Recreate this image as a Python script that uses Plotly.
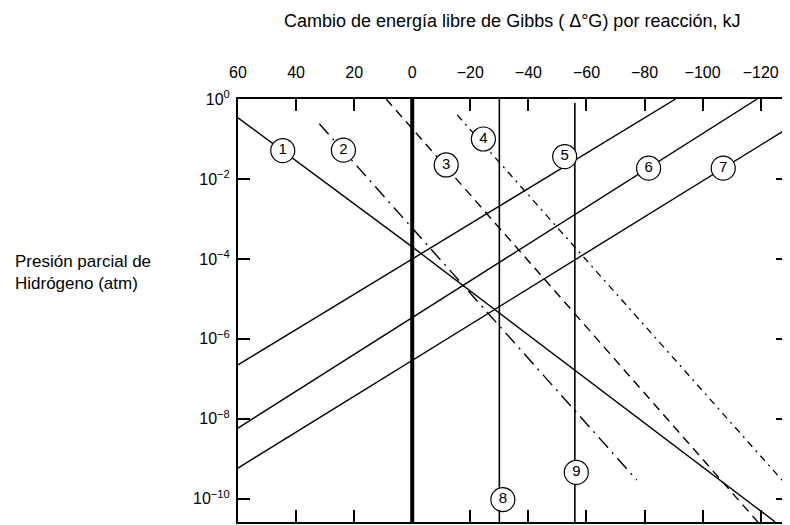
import plotly.graph_objects as go

# ---- axis ticks ----
dg_ticks = [60, 40, 20, 0, -20, -40, -60, -80, -100, -120]
dg_tick_text = ["60", "40", "20", "0", "\u221220", "\u221240", "\u221260", "\u221280", "\u2212100", "\u2212120"]
p_exp_ticks = [0, -2, -4, -6, -8, -10]
p_tick_text = ["10<sup>0</sup>", "10<sup>\u22122</sup>", "10<sup>\u22124</sup>",
               "10<sup>\u22126</sup>", "10<sup>\u22128</sup>", "10<sup>\u221210</sup>"]

# ---- reaction lines: ΔG (kJ) vs log10 of H2 partial pressure (atm) ----
line1_dg = [60, 0, -125]
line1_logp = [-0.47, -3.7, -10.58]
line2_dg = [32, -77.3]
line2_logp = [-0.62, -9.53]
line3_dg = [9, -119]
line3_logp = [0, -10.58]
line4_dg = [-15.5, -129.4]
line4_logp = [-0.4, -9.7]
line5_dg = [60, -90.7]
line5_logp = [-6.65, 0]
line6_dg = [60, -118.8]
line6_logp = [-8.23, 0]
line7_dg = [60, -129.4]
line7_logp = [-9.23, -0.73]
line8_dg = [-30, -30]
line8_logp = [0, -10.58]
line9_dg = [-56, -56]
line9_logp = [-0.1, -10.58]
zero_dg = [0, 0]
zero_logp = [0, -10.58]

# ---- circled labels ----
label_text = ["1", "2", "3", "4", "5", "6", "7", "8", "9"]
label_dg = [44.6, 23.7, -11.7, -24.5, -52.5, -81.4, -107.1, -31.2, -56.5]
label_logp = [-1.29, -1.28, -1.65, -1.0, -1.44, -1.73, -1.73, -10.02, -9.34]

x_range = [60, -129.4]
y_range = [-10.58, 0]

FONT = "Liberation Sans, Arial, sans-serif"


def pw(vals):
    return [10 ** v for v in vals]


fig = go.Figure()

styles = [
    (line1_dg, line1_logp, "solid", 1.4),
    (line2_dg, line2_logp, "14px,6px,2px,6px", 1.4),
    (line3_dg, line3_logp, "9px,6px", 1.4),
    (line4_dg, line4_logp, "7px,5px,2px,5px", 1.3),
    (line5_dg, line5_logp, "solid", 1.4),
    (line6_dg, line6_logp, "solid", 1.4),
    (line7_dg, line7_logp, "solid", 1.4),
    (line8_dg, line8_logp, "solid", 1.6),
    (line9_dg, line9_logp, "solid", 1.6),
    (zero_dg, zero_logp, "solid", 4),
]
for xs, ys, dash, w in styles:
    fig.add_trace(go.Scatter(
        x=xs, y=pw(ys), mode="lines",
        line=dict(color="black", width=w, dash=dash),
        showlegend=False, hoverinfo="skip",
    ))

fig.add_trace(go.Scatter(
    x=label_dg, y=pw(label_logp), mode="markers+text",
    text=label_text, textposition="middle center",
    textfont=dict(family=FONT, size=15, color="black"),
    marker=dict(symbol="circle", size=24, color="white",
                line=dict(color="black", width=1.2)),
    showlegend=False, hoverinfo="skip",
))

# page has an 8px body margin: figure is 782x517 so it fills the 790x525 window
PL, PT, PW, PH = 230, 91, 552, 423

fig.update_layout(
    width=782, height=517,
    margin=dict(l=PL, r=0, t=PT, b=3),
    paper_bgcolor="white", plot_bgcolor="white",
    font=dict(family=FONT, color="black"),
    xaxis=dict(
        range=x_range, side="top",
        tickmode="array", tickvals=dg_ticks, ticktext=dg_tick_text,
        ticks="inside", ticklen=12, tickwidth=1.5, tickcolor="black",
        showline=True, linewidth=2, linecolor="black", mirror="ticks",
        showgrid=False, zeroline=False,
        tickfont=dict(family=FONT, size=16, color="black"),
        ticklabelstandoff=13,
    ),
    yaxis=dict(
        type="log", range=y_range,
        tickmode="array", tickvals=pw(p_exp_ticks), ticktext=p_tick_text,
        ticks="inside", ticklen=12, tickwidth=1.5, tickcolor="black",
        showline=True, linewidth=2, linecolor="black", mirror="ticks",
        showgrid=False, zeroline=False,
        tickfont=dict(family=FONT, size=16, color="black"),
        ticklabelstandoff=3,
    ),
    annotations=[
        dict(text="Cambio de energía libre de Gibbs ( \u0394°G) por reacción, kJ",
             xref="paper", yref="paper", x=(505 - PL) / PW, y=1 + (PT - 13) / PH,
             xanchor="center", yanchor="middle", showarrow=False,
             font=dict(family=FONT, size=18, color="black")),
        dict(text="Presión parcial de<br>Hidrógeno (atm)",
             xref="paper", yref="paper", x=(4 - PL) / PW, y=(PT + PH - 264) / PH,
             xanchor="left", yanchor="middle", align="left", showarrow=False,
             font=dict(family=FONT, size=17, color="black")),
    ],
)

fig.write_html("out.html")
